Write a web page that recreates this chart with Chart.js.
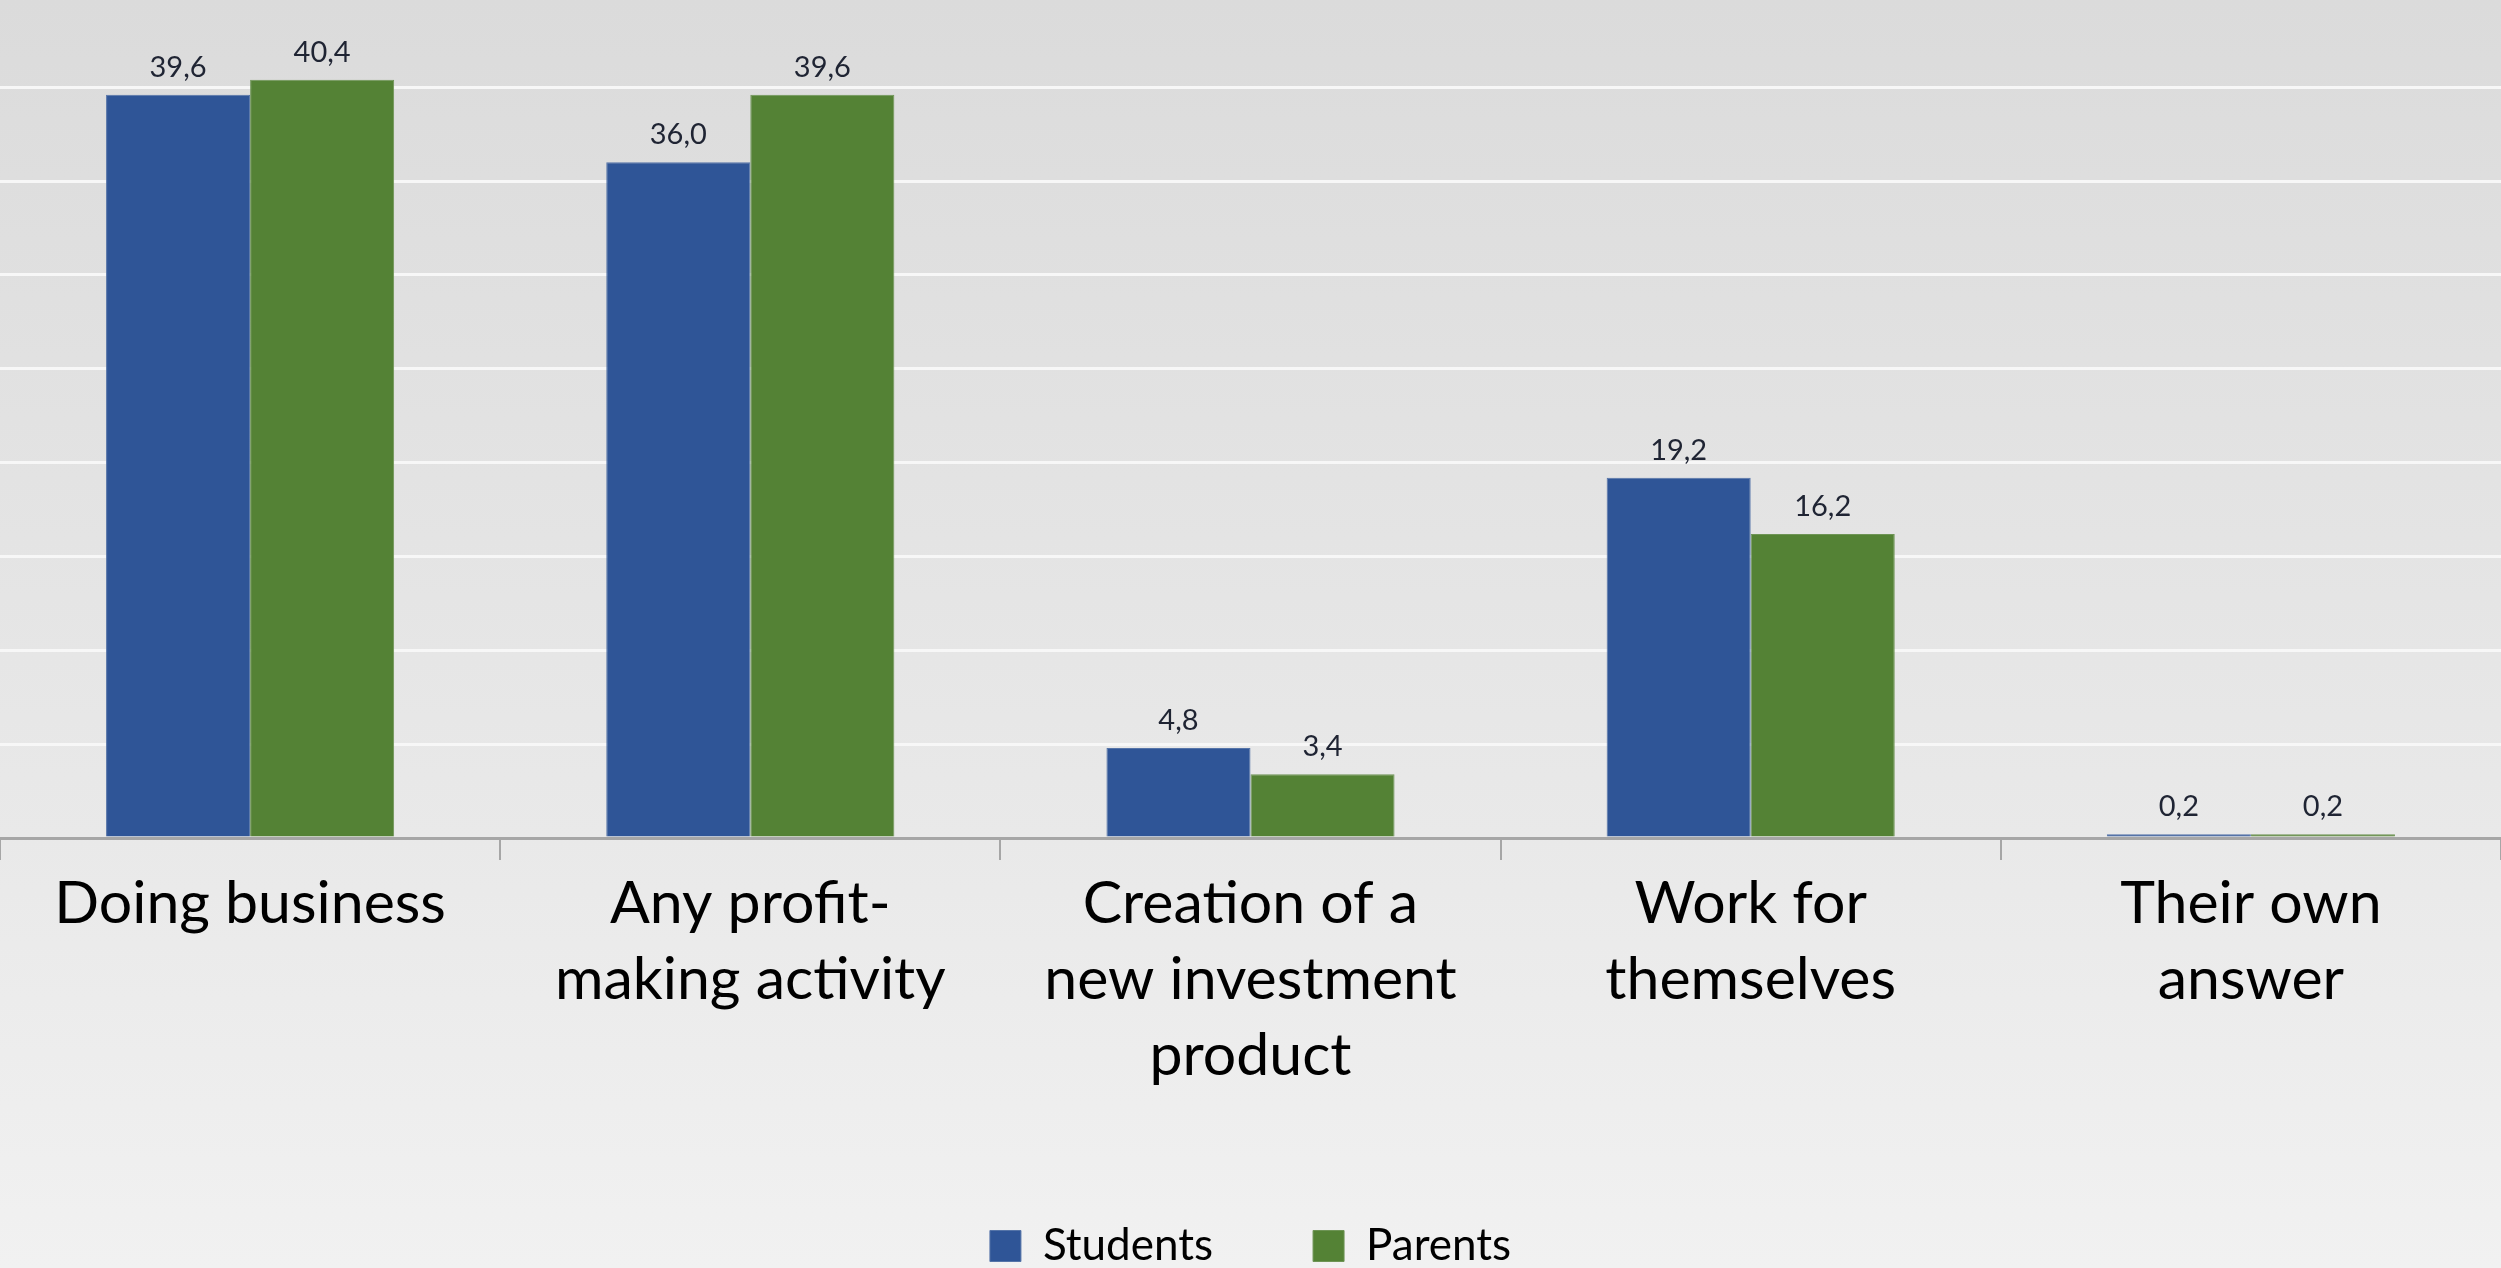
<!DOCTYPE html>
<html>
<head>
<meta charset="utf-8">
<script src="https://cdn.jsdelivr.net/npm/chart.js@4.4.1/dist/chart.umd.min.js"></script>
<style>
  html, body { margin: 0; padding: 0; overflow: hidden; background: #f1f1f1; }
  canvas { display: block; }
</style>
</head>
<body>
<!-- canvas runs 10px past the window bottom so the legend sits low -->
<canvas id="chart" width="2501" height="1278"></canvas>
<script>
// Categories (multi-line labels) and survey shares, %
const categories = [
    ['Doing business'],
    ['Any profit-', 'making activity'],
    ['Creation of a', 'new investment', 'product'],
    ['Work for', 'themselves'],
    ['Their own', 'answer']
];
const students = [39.6, 36.0, 4.8, 19.2, 0.2];
const parents = [40.4, 39.6, 3.4, 16.2, 0.2];

const FONT = 'Lato, "Open Sans", sans-serif';
const VISIBLE_H = 1268;    // height of the window
const AXIS_BOTTOM = 838;   // y of the category axis line
const LEGEND_PAD = 100;

// Light grey gradient behind everything
const backgroundPlugin = {
    id: 'background',
    beforeDraw(chart) {
        const { ctx, width, height } = chart;
        const g = ctx.createLinearGradient(0, 0, 0, VISIBLE_H);
        g.addColorStop(0, '#dbdbdb');
        g.addColorStop(0.66, '#e9e9e9');
        g.addColorStop(1, '#f1f1f1');
        ctx.save();
        ctx.fillStyle = g;
        ctx.fillRect(0, 0, width, height);
        ctx.restore();
    }
};

// Value labels above each bar, decimal comma
const valueLabels = {
    id: 'valueLabels',
    afterDatasetsDraw(chart) {
        const { ctx } = chart;
        ctx.save();
        ctx.font = '29px ' + FONT;
        ctx.fillStyle = '#1f2433';
        ctx.textAlign = 'center';
        ctx.textBaseline = 'bottom';
        chart.data.datasets.forEach((ds, i) => {
            chart.getDatasetMeta(i).data.forEach((bar, j) => {
                const text = ds.data[j].toFixed(1).replace('.', ',');
                ctx.fillText(text, bar.x, bar.y - 13);
            });
        });
        ctx.restore();
    }
};

new Chart(document.getElementById('chart'), {
    type: 'bar',
    data: {
        labels: categories,
        datasets: [
            {
                label: 'Students',
                data: students,
                backgroundColor: '#2f5597',
                borderColor: '#5574a8',
                borderWidth: 1,
                categoryPercentage: 0.576,
                barPercentage: 1
            },
            {
                label: 'Parents',
                data: parents,
                backgroundColor: '#548235',
                borderColor: '#6e9455',
                borderWidth: 1,
                categoryPercentage: 0.576,
                barPercentage: 1
            }
        ]
    },
    options: {
        responsive: false,
        animation: false,
        layout: { padding: 0 },
        plugins: {
            tooltip: { enabled: false },
            legend: {
                position: 'bottom',
                labels: {
                    font: { family: FONT, size: 44 },
                    color: '#000',
                    boxWidth: 31,
                    boxHeight: 31,
                    padding: LEGEND_PAD
                }
            }
        },
        scales: {
            x: {
                grid: {
                    offset: true,
                    drawOnChartArea: false,
                    drawTicks: true,
                    tickLength: 22,
                    color: '#a6a6a6',
                    lineWidth: 2
                },
                border: { display: true, color: '#a6a6a6', width: 3 },
                ticks: {
                    font: { family: FONT, size: 59, lineHeight: 1.29 },
                    color: '#000',
                    padding: 6,
                    maxRotation: 0,
                    autoSkip: false
                },
                afterFit(scale) {
                    const chart = scale.chart;
                    const legendH = chart.legend ? chart.legend.height : 0;
                    scale.height = chart.height - legendH - AXIS_BOTTOM;
                }
            },
            y: {
                min: 0,
                max: 44.65,
                ticks: { display: false, stepSize: 5 },
                border: { display: false },
                grid: {
                    drawTicks: false,
                    lineWidth: 3,
                    color: (ctx) => {
                        const v = ctx.tick.value;
                        return (v > 0 && v % 5 === 0) ? '#f7f7f7' : 'rgba(0,0,0,0)';
                    }
                },
                afterFit(scale) { scale.width = 0; }
            }
        }
    },
    plugins: [backgroundPlugin, valueLabels]
});
</script>
</body>
</html>
